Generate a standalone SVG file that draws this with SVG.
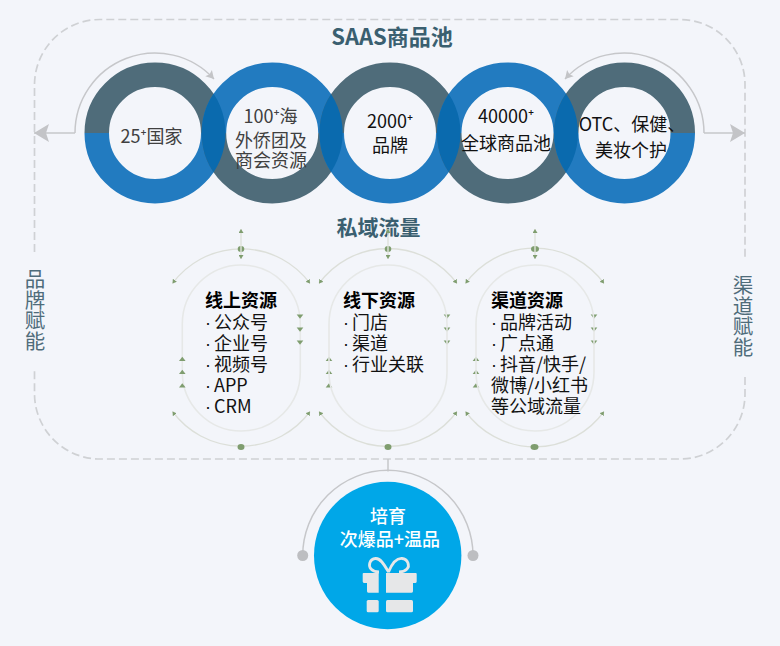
<svg xmlns="http://www.w3.org/2000/svg" width="780" height="646" viewBox="0 0 780 646">
<style>
text{font-family:"Noto Sans CJK SC","Noto Sans",sans-serif}
.rt{font-size:18px;text-anchor:middle;fill:#111}
.rg{font-size:18px;text-anchor:middle;fill:#404040}
.ti{font-size:22px;font-weight:700;text-anchor:middle;fill:#3a5f70}
.hd{font-size:18px;font-weight:700;fill:#000}
.li{font-size:18px;fill:#111}
.bu{font-family:"Liberation Sans",sans-serif;word-spacing:-2px}
.vt{font-size:20.5px;fill:#4f6c7a;writing-mode:vertical-rl;text-orientation:upright}
.wt{font-size:18px;font-weight:500;text-anchor:middle;fill:#fff}
.dk{fill:none;stroke:#4f6c7a;stroke-width:24.5}
.bl{fill:none;stroke:#227bc0;stroke-width:24.5}
.ov{fill:none;stroke:#0a6aae;stroke-width:24.5}
.gr{fill:none;stroke:#c6c7ca;stroke-width:1.5}
.arc{fill:none;stroke:#dcdfd9;stroke-width:1.3;marker-start:url(#tiny);marker-end:url(#tiny)}
.stad{fill:none;stroke:#e6e8e7;stroke-width:1.6}
.vl{fill:none;stroke:#dcdfd9;stroke-width:1.3;marker-start:url(#tiny);marker-end:url(#tiny)}
.g{fill:#7f9d6f}
</style>
<defs>
<marker id="big" markerUnits="userSpaceOnUse" markerWidth="16" markerHeight="20" refX="15" refY="10" orient="auto"><path d="M0 1L15 10L0 19L3 10Z" fill="#c3c4c7"/></marker>
<marker id="small" markerUnits="userSpaceOnUse" markerWidth="10" markerHeight="10" refX="8" refY="5" orient="auto"><path d="M0 .5L8 5L0 9.500L1.500 5Z" fill="#c3c4c7"/></marker>
<marker id="tiny" markerUnits="userSpaceOnUse" markerWidth="5" markerHeight="5" refX="4" refY="2.500" orient="auto-start-reverse"><path d="M0 0L4 2.500L0 5Z" fill="#7f9d6f"/></marker>
<path id="top" d="M-58.250 0A58.250 58.250 0 0 1 58.250 0"/>
<path id="bot" d="M-58.250 0A58.250 58.250 0 0 0 58.250 0"/>
<path id="dn" d="M-3.300 -2L3.300 -2L0 2.200Z"/>
<path id="up" d="M-3.300 2L3.300 2L0 -2.200Z"/>
<clipPath id="c1"><path clip-rule="evenodd" d="M84.500 133a70.500 70.500 0 1 0 141 0a70.500 70.500 0 1 0 -141 0ZM109 133a46 46 0 1 0 92 0a46 46 0 1 0 -92 0Z"/></clipPath>
<clipPath id="c2"><path clip-rule="evenodd" d="M201.700 133a70.500 70.500 0 1 0 141 0a70.500 70.500 0 1 0 -141 0ZM226.200 133a46 46 0 1 0 92 0a46 46 0 1 0 -92 0Z"/></clipPath>
<clipPath id="c3"><path clip-rule="evenodd" d="M319.500 133a70.500 70.500 0 1 0 141 0a70.500 70.500 0 1 0 -141 0ZM344 133a46 46 0 1 0 92 0a46 46 0 1 0 -92 0Z"/></clipPath>
<clipPath id="c4"><path clip-rule="evenodd" d="M437 133a70.500 70.500 0 1 0 141 0a70.500 70.500 0 1 0 -141 0ZM461.500 133a46 46 0 1 0 92 0a46 46 0 1 0 -92 0Z"/></clipPath>
</defs>
<rect width="780" height="646" fill="#f3f5fa"/>
<g id="connectors">
<path id="frame" d="M34.500 252V85A65.500 65.500 0 0 1 100 19.500H680A65 65 0 0 1 745 85V258M745 377V394A65 65 0 0 1 680 459H100A65.500 65.500 0 0 1 34.500 394V370" fill="none" stroke="#cfd1d4" stroke-width="1.700" stroke-dasharray="8 4"/>
<path class="gr" d="M75 133A80 80 0 0 1 214 79" marker-end="url(#small)"/>
<path class="gr" d="M75 133H34" marker-end="url(#big)"/>
<path class="gr" d="M704 133A80 80 0 0 0 565 79" marker-end="url(#small)"/>
<path class="gr" d="M704 133H745" marker-end="url(#big)"/>
<path class="gr" d="M388 459V471.500"/>
</g>
<g id="ring-1"><use href="#top" x="155" y="133" class="dk"/><use href="#bot" x="155" y="133" class="bl"/></g>
<g id="ring-2"><use href="#top" x="272.200" y="133" class="bl"/><use href="#bot" x="272.200" y="133" class="dk"/></g>
<g id="ring-3"><use href="#top" x="390" y="133" class="dk"/><use href="#bot" x="390" y="133" class="bl"/></g>
<g id="ring-4"><use href="#top" x="507.500" y="133" class="bl"/><use href="#bot" x="507.500" y="133" class="dk"/></g>
<g id="ring-5"><use href="#top" x="624.500" y="133" class="dk"/><use href="#bot" x="624.500" y="133" class="bl"/></g>
<g id="ring-overlaps">
<circle class="ov" cx="272.200" cy="133" r="58.250" clip-path="url(#c1)"/>
<circle class="ov" cx="390" cy="133" r="58.250" clip-path="url(#c2)"/>
<circle class="ov" cx="507.500" cy="133" r="58.250" clip-path="url(#c3)"/>
<circle class="ov" cx="624.500" cy="133" r="58.250" clip-path="url(#c4)"/>
</g>
<g id="ring-labels">
<text class="rg" x="151.500" y="143">25⁺国家</text>
<text class="rg" x="270.500" y="123">100⁺海</text>
<text class="rg" x="271" y="146.500">外侨团及</text>
<text class="rg" x="271" y="167">商会资源</text>
<text class="rt" x="390" y="128">2000⁺</text>
<text class="rt" x="390" y="151.500">品牌</text>
<text class="rt" x="506" y="123">40000⁺</text>
<text class="rt" x="506" y="150">全球商品池</text>
<text class="rt" x="632" y="130.500">OTC、保健、</text>
<text class="rt" x="631" y="156.500">美妆个护</text>
</g>
<text class="ti" x="392" y="44.500">SAAS商品池</text>
<text class="ti" x="378.500" y="234.500" style="font-size:21px">私域流量</text>
<text class="vt" x="35" y="269">品牌赋能</text>
<text class="vt" x="743" y="275">渠道赋能</text>

<g id="section-online">
<rect class="stad" x="182.300" y="265" width="118" height="166" rx="59"/>
<path class="arc" d="M172.500 283.500A85.500 85.500 0 0 1 310 283.500"/>
<path class="arc" d="M172.500 411.500A85.500 85.500 0 0 0 310 411.500"/>
<path class="vl" d="M241 229V259"/>
<ellipse class="g" cx="241" cy="249" rx="3.300" ry="3"/><path d="M241 245V253" stroke="#e6eae4" stroke-width="1.300"/>
<ellipse class="g" cx="241" cy="447" rx="3.500" ry="3"/>
<use href="#dn" x="300" y="316.500" class="g"/><use href="#dn" x="300" y="329.500" class="g"/><use href="#dn" x="300" y="342.500" class="g"/>
<use href="#up" x="182.300" y="359" class="g"/><use href="#up" x="182.300" y="372" class="g"/><use href="#up" x="182.300" y="385.500" class="g"/>
<text class="hd" x="205" y="307">线上资源</text>
<text class="li" x="205" y="329"><tspan class="bu">· </tspan>公众号</text>
<text class="li" x="205" y="350"><tspan class="bu">· </tspan>企业号</text>
<text class="li" x="205" y="371"><tspan class="bu">· </tspan>视频号</text>
<text class="li" x="205" y="392"><tspan class="bu">· </tspan>APP</text>
<text class="li" x="205" y="413"><tspan class="bu">· </tspan>CRM</text>
</g>
<g id="section-offline">
<path class="arc" d="M319 283.500A85.500 85.500 0 0 1 457 283.500"/>
<path class="arc" d="M319 411.500A85.500 85.500 0 0 0 457 411.500"/>
<path class="vl" d="M388 229V259"/>
<ellipse class="g" cx="388" cy="249" rx="3.300" ry="3"/><path d="M388 245V253" stroke="#e6eae4" stroke-width="1.300"/>
<ellipse class="g" cx="388" cy="447" rx="3.500" ry="3"/>
<use href="#dn" x="447" y="316.500" class="g"/><use href="#dn" x="447" y="329.500" class="g"/><use href="#dn" x="447" y="342.500" class="g"/>
<use href="#up" x="329" y="359" class="g"/><use href="#up" x="329" y="372" class="g"/><use href="#up" x="329" y="385.500" class="g"/>
<rect class="stad" x="329" y="265" width="118" height="166" rx="59"/>
<text class="hd" x="343" y="307">线下资源</text>
<text class="li" x="343" y="329"><tspan class="bu">· </tspan>门店</text>
<text class="li" x="343" y="350"><tspan class="bu">· </tspan>渠道</text>
<text class="li" x="343" y="371"><tspan class="bu">· </tspan>行业关联</text>
</g>
<g id="section-channel">
<path class="arc" d="M465.500 283.500A85.500 85.500 0 0 1 604 283.500"/>
<path class="arc" d="M465.500 411.500A85.500 85.500 0 0 0 604 411.500"/>
<path class="vl" d="M535 229V259"/>
<ellipse class="g" cx="535" cy="249" rx="4" ry="3"/><path d="M535 245V253" stroke="#e6eae4" stroke-width="1.300"/>
<ellipse class="g" cx="534.500" cy="447" rx="4" ry="3"/>
<use href="#dn" x="594" y="316.500" class="g"/><use href="#dn" x="594" y="329.500" class="g"/><use href="#dn" x="594" y="342.500" class="g"/>
<use href="#up" x="476" y="359" class="g"/><use href="#up" x="476" y="372" class="g"/><use href="#up" x="476" y="385.500" class="g"/>
<rect class="stad" x="476" y="265" width="118" height="166" rx="59"/>
<text class="hd" x="491" y="307">渠道资源</text>
<text class="li" x="491" y="329"><tspan class="bu">· </tspan>品牌活动</text>
<text class="li" x="491" y="350"><tspan class="bu">· </tspan>广点通</text>
<text class="li" x="491" y="371"><tspan class="bu">· </tspan>抖音/快手/</text>
<text class="li" x="491" y="392">微博/小红书</text>
<text class="li" x="491" y="413">等公域流量</text>
</g>
<g id="node-cultivate">
<path class="gr" d="M302.700 555.500A85 85 0 0 1 473 555.500"/>
<circle cx="302.700" cy="555.500" r="5.500" fill="#bdbec1"/>
<circle cx="473" cy="555.500" r="5.500" fill="#bdbec1"/>
<circle cx="387.700" cy="555.500" r="73.700" fill="#00a7e8"/>
<text class="wt" x="388" y="523">培育</text>
<text class="wt" x="390" y="545.500">次爆品+温品</text>
<g id="gift" fill="#e6e7e8">
<path d="M363.500 573H378.700V592.700H368.500A1.500 1.500 0 0 1 367 591V583H364A1.500 1.500 0 0 1 362.700 581.500V574A1 1 0 0 1 363.500 573ZM386 573H415.500A1 1 0 0 1 416.700 574V581.500A1.500 1.500 0 0 1 415.500 583H413V591A1.500 1.500 0 0 1 411.500 592.700H386Z"/>
<rect x="366.700" y="600" width="12" height="12.300" rx="1.500"/>
<rect x="386" y="600" width="27" height="12.300" rx="1.500"/>
<path d="M388.500 572C385 566 381 558 375.500 558.500C369.500 559 368 566 371 569C373 571 376 572 379 572M388.500 572C391 566 396 558 402 558.500C408 559 410 566 407 569C405 571 402 572 399 572" fill="none" stroke="#e6e7e8" stroke-width="2.800"/>
</g>
</g>
</svg>
